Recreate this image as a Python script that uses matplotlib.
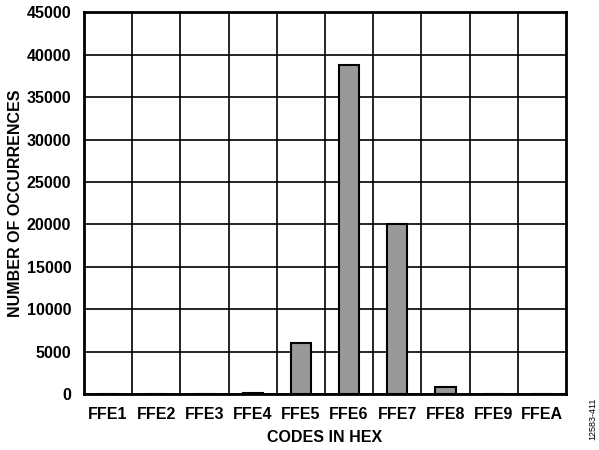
import numpy as np
import matplotlib as mpl
import matplotlib.pyplot as plt

mpl.rcParams['font.family'] = ['Liberation Sans', 'DejaVu Sans']

# データ
codes = ['FFE1', 'FFE2', 'FFE3', 'FFE4', 'FFE5', 'FFE6', 'FFE7', 'FFE8', 'FFE9', 'FFEA']
counts = [0, 0, 0, 120, 6000, 38800, 20100, 800, 30, 0]
y_ticks = [0, 5000, 10000, 15000, 20000, 25000, 30000, 35000, 40000, 45000]

fig = plt.figure(figsize=(5.99, 4.5), dpi=100)
ax = fig.add_axes([0.140, 0.124, 0.805, 0.849])

x = np.arange(len(codes))
ax.bar(x, counts, width=0.42, color='#999999', edgecolor='black', linewidth=1.5, zorder=3)

ax.set_xlim(-0.5, len(codes) - 0.5)
ax.set_ylim(0, 45000)
ax.set_yticks(y_ticks)
ax.set_yticklabels([str(v) for v in y_ticks], fontsize=11.5, fontweight='bold')
ax.set_xticks(x)
ax.set_xticklabels(codes, fontsize=11.5, fontweight='bold')
ax.set_xticks(np.arange(0.5, len(codes) - 0.5, 1.0), minor=True)

# グリッド
ax.grid(which='minor', axis='x', color='black', linewidth=1.2, zorder=1)
ax.grid(which='major', axis='y', color='black', linewidth=1.2, zorder=1)
ax.set_axisbelow(True)

ax.tick_params(which='both', length=0)
ax.tick_params(axis='x', pad=9)
ax.tick_params(axis='y', pad=9)

for s in ax.spines.values():
    s.set_linewidth(2)
    s.set_color('black')

ax.set_xlabel('CODES IN HEX', fontsize=11.5, fontweight='bold', labelpad=6)
ax.set_ylabel('NUMBER OF OCCURRENCES', fontsize=11.5, fontweight='bold', labelpad=3)

fig.text(0.99, 0.07, '12583-411', rotation=90, fontsize=6.5, ha='center', va='center')

fig.savefig('out.png', dpi=100, facecolor='white')
